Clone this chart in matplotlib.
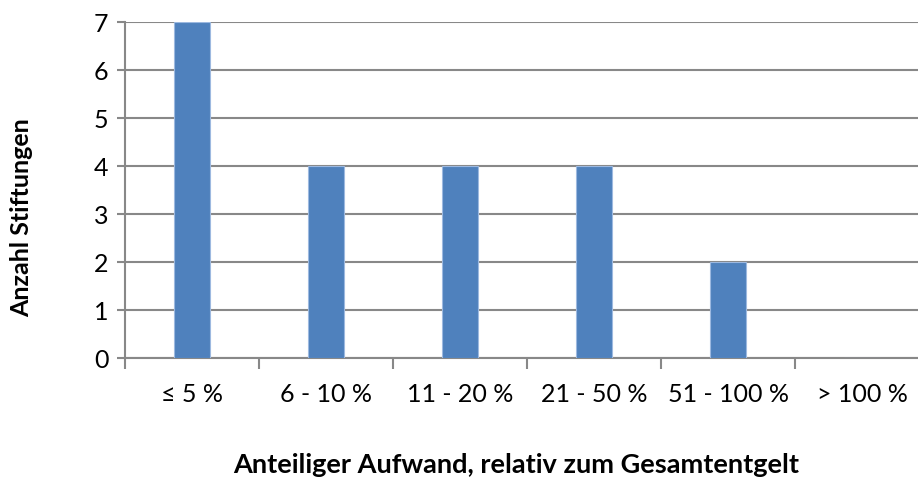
import matplotlib.pyplot as plt
import numpy as np

categories = ['≤ 5 %', '6 - 10 %', '11 - 20 %', '21 - 50 %', '51 - 100 %', '> 100 %']
counts = [7, 4, 4, 4, 2, 0]

plt.rcParams['font.family'] = ['Lato', 'DejaVu Sans']

fig = plt.figure(figsize=(9.18, 4.8), dpi=100)
# plot area runs past the right edge, like the original
ax = fig.add_axes([125 / 918, 122 / 480, 804 / 918, 336 / 480])

x = np.arange(len(categories))
ax.bar(x, counts, width=0.27, color='#4F81BD', edgecolor='#9DB9E0', linewidth=0.8, zorder=3)

ax.set_xlim(-0.5, 5.5)
ax.set_ylim(0, 7)
ax.set_yticks(range(8))
ax.yaxis.grid(True, color='#888888', linewidth=1.5, zorder=0)

ax.set_xticks(x)
ax.set_xticklabels(categories, fontsize=18)
ax.set_xticks(np.arange(-0.5, 6, 1), minor=True)
ax.tick_params(axis='x', which='major', length=0, pad=18)
ax.tick_params(axis='x', which='minor', length=8, width=1.5, color='#888888', direction='out')
ax.tick_params(axis='y', labelsize=18, length=6, width=1.5, color='#888888', pad=6)

for s in ['top', 'right']:
    ax.spines[s].set_visible(False)
for s in ['left', 'bottom']:
    ax.spines[s].set_color('#888888')
    ax.spines[s].set_linewidth(1.5)

fig.text(516 / 918, 1 - 465 / 480, 'Anteiliger Aufwand, relativ zum Gesamtentgelt',
         ha='center', va='center', fontsize=19.5, fontweight='bold')
fig.text(22 / 918, 1 - 218 / 480, 'Anzahl Stiftungen', rotation=90,
         ha='center', va='center', fontsize=18, fontweight='bold')

plt.savefig('out.png', dpi=100)
